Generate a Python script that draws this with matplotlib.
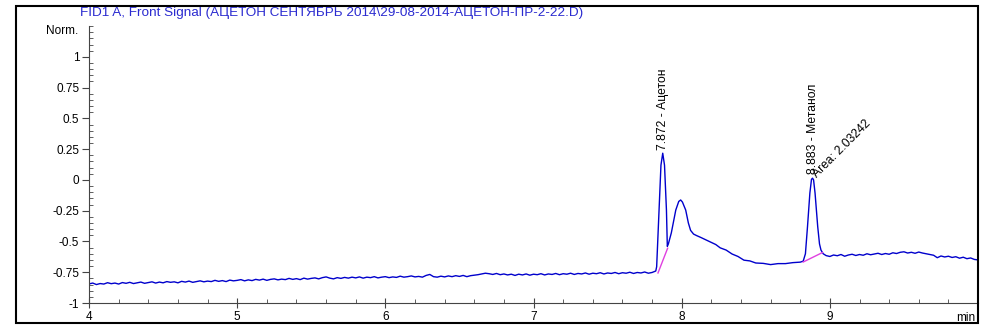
import matplotlib
matplotlib.use("Agg")
import matplotlib.pyplot as plt
from matplotlib.ticker import MultipleLocator, FixedLocator
from matplotlib.patches import Rectangle
import numpy as np

plt.rcParams["font.family"] = ["Liberation Sans", "DejaVu Sans"]

# baseline before the peaks, read every 0.025 min from 4.000 to 7.800
early_t = np.round(np.arange(4.0, 7.8001, 0.025), 3)
early_v = [-0.845, -0.838, -0.850, -0.842, -0.846, -0.835, -0.843, -0.838, -0.846, -0.834,
           -0.840, -0.832, -0.842, -0.836, -0.830, -0.840, -0.834, -0.828, -0.838, -0.830,
           -0.836, -0.826, -0.832, -0.828, -0.836, -0.824, -0.830, -0.822, -0.832, -0.826,
           -0.820, -0.828, -0.822, -0.826, -0.816, -0.824, -0.818, -0.826, -0.814, -0.820,
           -0.816, -0.810, -0.820, -0.812, -0.818, -0.808, -0.814, -0.806, -0.816, -0.808,
           -0.804, -0.812, -0.806, -0.810, -0.800, -0.808, -0.802, -0.810, -0.798, -0.806,
           -0.800, -0.796, -0.804, -0.794, -0.788, -0.798, -0.804, -0.794, -0.800, -0.792,
           -0.798, -0.790, -0.796, -0.788, -0.798, -0.790, -0.794, -0.786, -0.796, -0.790,
           -0.786, -0.794, -0.788, -0.792, -0.782, -0.790, -0.786, -0.780, -0.788, -0.784,
           -0.790, -0.776, -0.768, -0.786, -0.790, -0.782, -0.788, -0.780, -0.786, -0.778,
           -0.784, -0.776, -0.786, -0.778, -0.774, -0.770, -0.764, -0.758, -0.762, -0.768,
           -0.760, -0.770, -0.764, -0.772, -0.766, -0.776, -0.766, -0.772, -0.764, -0.774,
           -0.766, -0.770, -0.762, -0.772, -0.764, -0.768, -0.760, -0.770, -0.762, -0.766,
           -0.758, -0.768, -0.760, -0.764, -0.756, -0.766, -0.758, -0.762, -0.754, -0.764,
           -0.756, -0.760, -0.752, -0.762, -0.754, -0.758, -0.750, -0.760, -0.752, -0.756,
           -0.748, -0.758, -0.752]

# peak region, read point by point
peak_t = [7.825, 7.831, 7.847, 7.860, 7.872, 7.884, 7.897, 7.903,
          7.91, 7.93, 7.96, 7.98, 7.993, 8.005, 8.027, 8.045, 8.06, 8.08,
          8.10, 8.13, 8.16, 8.20, 8.23, 8.26, 8.30, 8.34, 8.38, 8.42,
          8.46, 8.50, 8.55, 8.60, 8.65, 8.70, 8.75, 8.80, 8.82, 8.835,
          8.849, 8.865, 8.876, 8.883, 8.89, 8.90, 8.918, 8.93, 8.94, 8.955]
peak_v = [-0.740, -0.705, -0.244, 0.120, 0.217, 0.120, -0.244, -0.540,
          -0.520, -0.430, -0.245, -0.175, -0.163, -0.180, -0.245, -0.350, -0.410, -0.440,
          -0.452, -0.468, -0.485, -0.508, -0.525, -0.552, -0.570, -0.602, -0.622, -0.652,
          -0.658, -0.675, -0.678, -0.688, -0.680, -0.680, -0.672, -0.668, -0.660, -0.600,
          -0.380, -0.107, 0.005, 0.014, 0.000, -0.107, -0.380, -0.520, -0.570, -0.600]

# baseline after the peaks, every 0.025 min from 8.975 to 10.000
late_t = np.round(np.arange(8.975, 10.0001, 0.025), 3)
late_v = [-0.615, -0.622, -0.610, -0.616, -0.606, -0.620, -0.610, -0.604, -0.614, -0.606,
          -0.612, -0.600, -0.608, -0.602, -0.596, -0.606, -0.598, -0.604, -0.592, -0.598,
          -0.588, -0.584, -0.594, -0.588, -0.596, -0.586, -0.594, -0.600, -0.606, -0.612,
          -0.632, -0.618, -0.626, -0.620, -0.630, -0.624, -0.636, -0.628, -0.640, -0.634,
          -0.646, -0.650]

# integration baselines
base1_t = [7.84, 7.905]
base1_v = [-0.756, -0.555]
base2_t = [8.82, 8.95]
base2_v = [-0.667, -0.590]

peak_times = [7.872, 8.883]
peak_tops = [0.217, 0.014]
peak_names = ["Ацетон", "Метанол"]
area_text = "Area: 2.03242"

title = "FID1 A, Front Signal (АЦЕТОН СЕНТЯБРЬ 2014\\29-08-2014-АЦЕТОН-ПР-2-22.D)"

time = np.concatenate([early_t, peak_t, late_t])
signal = np.concatenate([early_v, peak_v, late_v])

fig = plt.figure(figsize=(9.98, 3.34), dpi=100)
fig.patches.append(Rectangle((0.016, 0.033), 0.964, 0.949, transform=fig.transFigure,
                             fill=False, edgecolor="black", linewidth=1.5))
ax = fig.add_axes([0.0892, 0.0928, 0.8908, 0.8292])

ax.plot(time, signal, color="#0000cc", linewidth=1)
ax.plot(base1_t, base1_v, color="#e040e0", linewidth=1)
ax.plot(base2_t, base2_v, color="#e040e0", linewidth=1)

for t, top, name in zip(peak_times, peak_tops, peak_names):
    ax.text(t, top + 0.03, f"{t:.3f} - {name}", rotation=90, ha="center", va="bottom",
            fontsize=8.7, color="black")
ax.text(8.925, 0.0, area_text, rotation=45, ha="left", va="bottom", fontsize=8.7,
        color="black", rotation_mode="anchor")

ax.set_xlim(4, 10)
ax.set_ylim(-1, 1.25)
ax.xaxis.set_major_locator(FixedLocator([4, 5, 6, 7, 8, 9]))
ax.xaxis.set_minor_locator(MultipleLocator(0.2))
ax.yaxis.set_major_locator(FixedLocator([-1, -0.75, -0.5, -0.25, 0, 0.25, 0.5, 0.75, 1]))
ax.yaxis.set_minor_locator(MultipleLocator(0.05))
ax.set_yticklabels(["-1", "-0.75", "-0.5", "-0.25", "0", "0.25", "0.5", "0.75", "1"])

for s in ["top", "right"]:
    ax.spines[s].set_visible(False)
for s in ["left", "bottom"]:
    ax.spines[s].set_color("#444444")
ax.tick_params(axis="x", which="major", direction="inout", length=7, labelsize=8.5, pad=2,
               color="#444444")
ax.tick_params(axis="x", which="minor", direction="in", length=3, color="#444444")
ax.tick_params(axis="y", which="major", direction="out", length=5, labelsize=8.5, pad=2,
               color="#444444")
ax.tick_params(axis="y", which="minor", direction="in", length=3, color="#444444")

ax.text(-0.012, 1.21, "Norm.", transform=ax.get_yaxis_transform(), ha="right",
        va="center", fontsize=8.5)
ax.text(0.997, -0.055, "min", transform=ax.transAxes, ha="right", va="center", fontsize=8.5)
fig.text(0.08, 0.962, title, color="#2b2bd0", fontsize=9.7, ha="left", va="center")

fig.savefig("out.png", dpi=100)
